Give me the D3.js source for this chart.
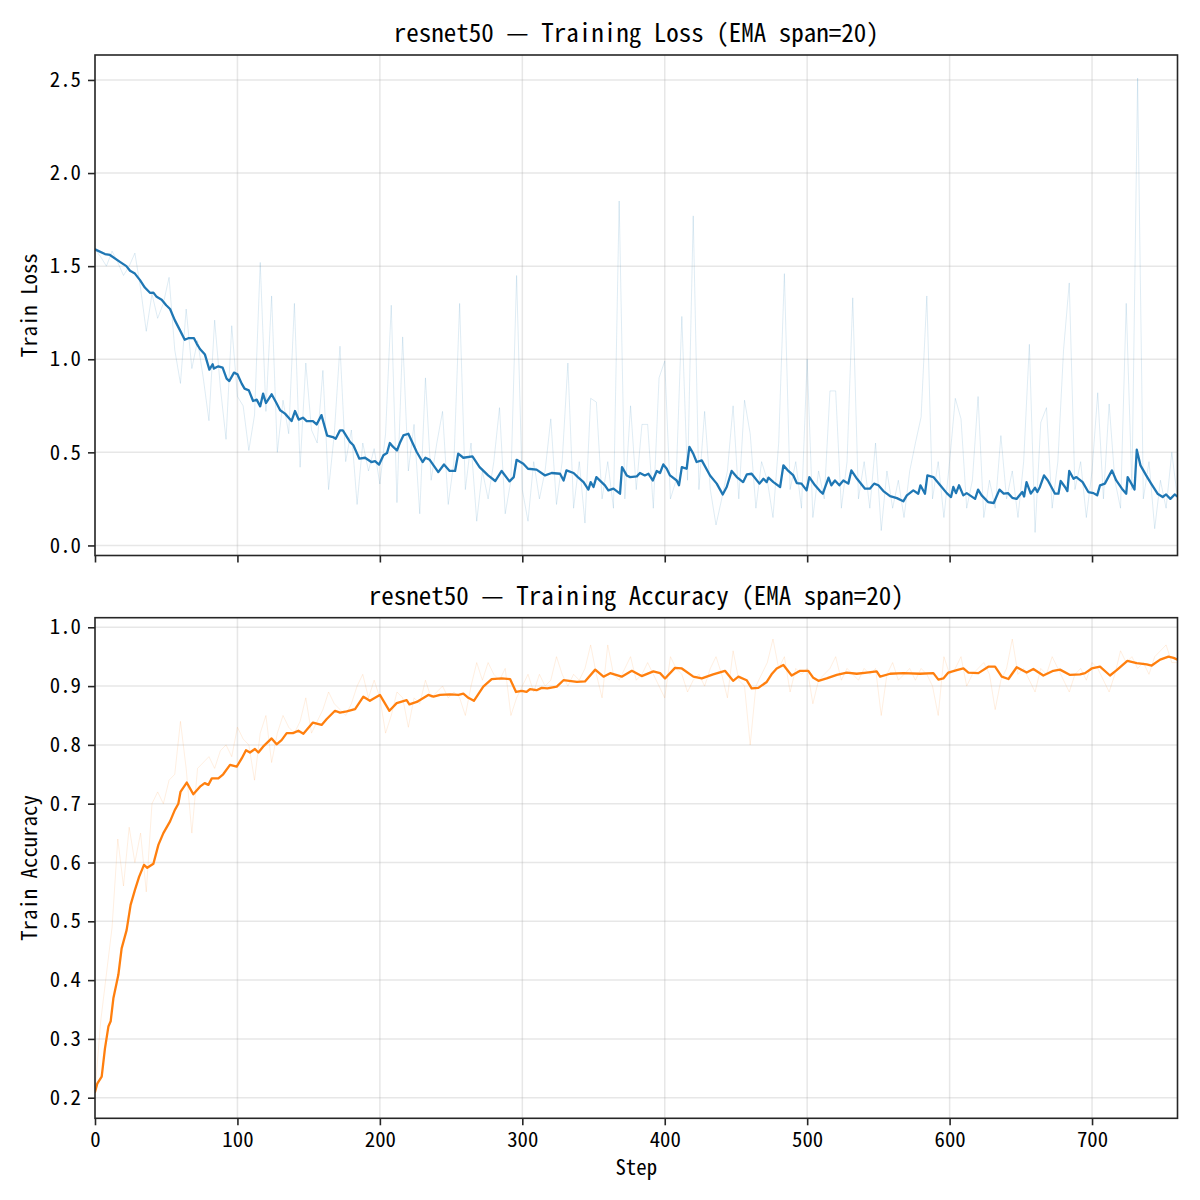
<!DOCTYPE html>
<html>
<head>
<meta charset="utf-8">
<script src="https://cdn.jsdelivr.net/npm/d3@7"></script>
<style>
  html, body { margin: 0; padding: 0; background: #ffffff; }
  svg { display: block; }
  text { font-family: "Noto Sans Mono CJK SC", "Noto Sans CJK SC", "Liberation Mono", monospace; fill: #000; }
</style>
</head>
<body>
<svg id="chart" width="1200" height="1200"></svg>
<script>
// ---------------- data ----------------
const modelName = "resnet50";
const emaSpan = 20;
const xTicks = [0, 100, 200, 300, 400, 500, 600, 700];
const lossTicks = [0.0, 0.5, 1.0, 1.5, 2.0, 2.5];
const accTicks = [0.2, 0.3, 0.4, 0.5, 0.6, 0.7, 0.8, 0.9, 1.0];
const rawStride = 4; // raw values sampled every 4 steps

// raw training loss (steps 0,4,...,760)
const lossRaw = [
  1.59,1.55,1.50,1.58,1.52,1.45,1.50,1.57,1.38,1.15,
  1.35,1.22,1.30,1.44,1.05,0.87,1.27,0.95,1.10,0.90,
  0.67,1.21,0.85,0.57,1.18,0.80,0.75,0.51,0.70,1.52,
  0.72,1.34,0.50,0.78,0.60,1.30,0.42,0.98,0.62,0.55,
  0.94,0.30,0.60,1.07,0.45,0.62,0.22,0.55,0.40,0.52,
  0.33,0.60,1.29,0.23,1.12,0.40,0.65,0.17,0.90,0.35,
  0.55,0.72,0.22,0.45,1.30,0.30,0.55,0.13,0.40,0.25,
  0.45,0.74,0.17,0.35,1.45,0.30,0.13,0.45,0.25,0.40,
  0.68,0.22,0.45,0.98,0.20,0.45,0.12,0.79,0.77,0.25,
  0.45,0.20,1.85,0.25,0.75,0.30,0.65,0.65,0.20,0.90,
  0.99,0.25,0.35,1.23,0.35,1.77,0.30,0.72,0.30,0.11,
  0.25,0.40,0.75,0.25,0.78,0.60,0.20,0.45,0.35,0.15,
  0.55,1.46,0.30,0.45,0.20,1.00,0.15,0.40,0.25,0.83,
  0.83,0.20,0.45,1.33,0.25,0.45,0.20,0.55,0.08,0.40,
  0.20,0.35,0.15,0.40,0.55,0.69,1.34,0.25,0.45,0.15,
  0.45,0.79,0.68,0.20,0.35,0.80,0.15,0.35,0.20,0.59,
  0.25,0.40,0.15,0.45,1.08,0.07,0.66,0.74,0.20,0.45,
  1.05,1.41,0.30,0.45,0.15,0.40,0.82,0.25,0.76,0.35,
  0.20,1.30,0.30,2.51,0.25,0.45,0.09,0.35,0.20,0.50,
  0.25
];

// EMA (span=20) of training loss
const lossEmaStep = [
  0,7,10.5,17.5,22,24.6,28,31.6,35,38.6,41,43.3,46.8,50,52.7,56,59.7,63,65.5,69.5,
  71.4,73.7,77.2,80.3,82.6,83.5,86.6,89.6,92.4,94.3,97.6,100,103,105,108,111,113.5,116,118,120,
  124,127,130,133.4,138,140.4,143,146,148.6,153,155.6,159,163,167,169,172,174,179,181.4,185.6,
  189.6,194,196.6,199.4,202.5,205,207,209,212,214,216.5,220,225.9,230,232,235,241,245,249,252.8,
  255,258.6,265,270,276,281,285.5,291,294,296,300.7,304,310,316,320.6,326.5,329,331,336,339,
  343,346.4,348,350,352,358,360.4,364,368.6,370,373.3,375.7,380.4,382.6,386,388.6,391.6,394.4,396.7,399,
  401.4,403.7,408.4,410,412,415.4,417.3,420,422.4,426,431.8,436.5,440.7,443.5,447,450.6,455,457.7,461,466.5,
  469.3,471.6,472.8,476.3,481,483.3,486.8,490.3,492.7,496,499.6,501.5,505.5,509,511,515,517,519.5,522.6,525.4,
  528.9,531,535,540.6,544,547,550,553.5,558.2,563,567.5,570,574.5,578,579.5,582.7,584.4,588.6,593.4,598,
  601,602.6,604.5,606.6,609.6,612,617.9,620,622.5,627,631,635,638,641,644,647,651,652.3,654,657,
  660,661.6,663.4,666.3,669,674,676.4,678,681,682.7,684,687,689,693.4,697.4,701,703.6,705.6,709,714,
  717,721,724,725,727.6,729.8,731.4,734,738,741.5,746,749.6,752,755,758,760
];
const lossEma = [
  1.59,1.565,1.56,1.523,1.50,1.475,1.46,1.425,1.385,1.357,1.358,1.335,1.32,1.29,1.27,1.21,1.155,1.105,1.113,1.113,
  1.084,1.055,1.025,0.944,0.973,0.95,0.962,0.955,0.896,0.883,0.928,0.919,0.869,0.842,0.833,0.776,0.783,0.747,0.815,0.765,
  0.812,0.77,0.726,0.708,0.668,0.722,0.676,0.686,0.668,0.668,0.65,0.70,0.59,0.582,0.573,0.618,0.618,0.556,0.538,0.466,
  0.471,0.448,0.453,0.434,0.484,0.496,0.55,0.532,0.51,0.55,0.591,0.60,0.502,0.448,0.471,0.46,0.394,0.435,0.40,0.40,
  0.493,0.471,0.478,0.421,0.376,0.346,0.40,0.344,0.367,0.46,0.439,0.412,0.407,0.376,0.389,0.385,0.349,0.403,0.389,0.367,
  0.34,0.30,0.34,0.314,0.367,0.323,0.296,0.305,0.278,0.421,0.376,0.367,0.371,0.389,0.376,0.385,0.349,0.40,0.389,0.435,
  0.412,0.376,0.349,0.323,0.421,0.412,0.529,0.493,0.448,0.457,0.376,0.332,0.274,0.314,0.40,0.367,0.34,0.382,0.385,0.332,
  0.358,0.34,0.364,0.34,0.314,0.43,0.40,0.376,0.335,0.332,0.296,0.367,0.323,0.292,0.278,0.364,0.323,0.349,0.323,0.349,
  0.332,0.403,0.358,0.305,0.305,0.332,0.323,0.292,0.265,0.254,0.237,0.269,0.296,0.278,0.323,0.278,0.376,0.367,0.323,0.281,
  0.26,0.314,0.281,0.323,0.269,0.281,0.25,0.30,0.269,0.233,0.228,0.30,0.278,0.281,0.256,0.25,0.287,0.263,0.34,0.278,
  0.31,0.287,0.314,0.376,0.349,0.278,0.278,0.346,0.314,0.292,0.40,0.358,0.367,0.34,0.287,0.281,0.269,0.323,0.332,0.403,
  0.349,0.305,0.278,0.367,0.332,0.30,0.514,0.43,0.376,0.332,0.278,0.26,0.274,0.25,0.274,0.263
];

// raw training accuracy (steps 0,4,...,760)
const accRaw = [
  0.21,0.33,0.41,0.49,0.64,0.56,0.66,0.60,0.65,0.55,
  0.70,0.72,0.70,0.74,0.75,0.84,0.76,0.65,0.76,0.77,
  0.78,0.76,0.79,0.80,0.78,0.83,0.81,0.80,0.74,0.82,
  0.85,0.77,0.82,0.85,0.83,0.82,0.84,0.88,0.82,0.84,
  0.86,0.89,0.87,0.86,0.85,0.87,0.90,0.92,0.88,0.91,
  0.88,0.82,0.85,0.89,0.88,0.83,0.88,0.87,0.91,0.88,
  0.89,0.90,0.88,0.89,0.88,0.85,0.90,0.94,0.91,0.94,
  0.92,0.91,0.93,0.85,0.88,0.90,0.92,0.89,0.92,0.90,
  0.91,0.95,0.92,0.90,0.92,0.91,0.93,0.97,0.92,0.88,
  0.97,0.92,0.91,0.93,0.95,0.91,0.92,0.94,0.92,0.90,
  0.88,0.95,0.93,0.92,0.89,0.91,0.92,0.90,0.93,0.95,
  0.92,0.88,0.96,0.91,0.90,0.80,0.90,0.92,0.94,0.98,
  0.93,0.95,0.89,0.93,0.92,0.93,0.87,0.91,0.92,0.93,
  0.95,0.91,0.93,0.92,0.91,0.93,0.92,0.93,0.85,0.92,
  0.94,0.91,0.92,0.93,0.91,0.93,0.92,0.90,0.85,0.95,
  0.92,0.93,0.95,0.90,0.92,0.93,0.94,0.92,0.86,0.91,
  0.93,0.98,0.92,0.93,0.91,0.89,0.93,0.92,0.95,0.93,
  0.91,0.89,0.92,0.93,0.91,0.94,0.93,0.91,0.89,0.92,
  0.96,0.94,0.95,0.93,0.94,0.92,0.95,0.96,0.97,0.94,
  0.94
];

// EMA (span=20) of training accuracy
const accEmaStep = [
  0,1.6,4.7,7,9.4,11,12.9,16.4,18.7,22.2,25,28,31,34.4,36.7,41,44.5,48,52.7,56,
  58.5,60,64.4,66.7,69,73.7,77,79.6,82,86.6,90,94.8,99.5,103,106,108.8,112.3,114.7,118,124,
  127.5,131,134.6,139,142.8,146.3,153,159.1,162.7,168.5,172,176.7,182.6,188.4,193,197.8,200,206.7,211.8,218.8,
  220.7,225.9,234,237.6,242.3,249.3,255.2,258.6,262.1,266,272.6,278.5,285.5,291.4,295.6,299.6,303,305.4,310,313.6,
  317.6,324.2,328.9,338.3,344,351.2,357,361.7,369.8,376.9,383.8,392,396.7,400.2,407.2,412,420.1,426,434,442.3,
  448,451.7,457.5,461,465.7,471.6,475,478.6,483.3,489.1,495,500.8,504.3,507.9,513.7,520.8,527.8,534.8,541.8,548.8,
  551.2,558.2,567.5,579.2,588.6,592.1,595.6,599.1,605,609.7,613.2,620.2,627.2,631.9,636.6,641.3,647.1,654.1,658.8,665.8,
  672.8,677.5,684.6,691.6,695.1,699.8,705.6,712.6,717.3,724.8,731.4,738.4,741.9,747.8,753.7,757.2,760
];
const accEma = [
  0.21,0.224,0.236,0.284,0.321,0.33,0.369,0.409,0.454,0.485,0.528,0.553,0.576,0.596,0.591,0.598,0.63,0.65,0.67,0.689,
  0.70,0.72,0.736,0.726,0.716,0.729,0.735,0.732,0.743,0.743,0.75,0.766,0.763,0.777,0.791,0.787,0.793,0.787,0.797,0.811,
  0.801,0.808,0.82,0.82,0.824,0.819,0.838,0.834,0.844,0.858,0.855,0.857,0.861,0.882,0.875,0.882,0.885,0.858,0.871,0.876,
  0.869,0.873,0.885,0.882,0.885,0.886,0.885,0.887,0.88,0.875,0.899,0.912,0.913,0.912,0.89,0.892,0.89,0.895,0.893,0.897,
  0.896,0.899,0.91,0.907,0.908,0.928,0.916,0.922,0.916,0.926,0.917,0.925,0.922,0.913,0.931,0.93,0.916,0.913,0.92,0.926,
  0.909,0.916,0.91,0.896,0.897,0.907,0.92,0.93,0.936,0.918,0.926,0.926,0.914,0.909,0.913,0.919,0.923,0.921,0.923,0.925,
  0.916,0.921,0.922,0.921,0.922,0.911,0.913,0.923,0.927,0.93,0.923,0.922,0.933,0.933,0.916,0.912,0.932,0.923,0.929,0.918,
  0.926,0.928,0.919,0.92,0.922,0.93,0.933,0.918,0.927,0.943,0.939,0.937,0.935,0.945,0.95,0.948,0.945
];

// ---------------- drawing ----------------
const svg = d3.select("#chart");
const fontSmall = 20.8, fontTitle = 25;
const fontStack = '"Noto Sans Mono CJK SC", "Noto Sans CJK SC", "Liberation Mono", monospace';
const spineColor = "#262626";
const blue = "#1f77b4", orange = "#ff7f0e";

const plotL = 95, plotR = 1177.5;
const x = d3.scaleLinear().domain([0, 760]).range([plotL, plotR]);

const panels = [
  {
    top: 55, bottom: 555.5, yDomain: [-0.054, 2.634], ticks: lossTicks,
    raw: lossRaw, emaStep: lossEmaStep, ema: lossEma, color: blue, rawAlpha: 0.16,
    title: `${modelName} — Training Loss (EMA span=${emaSpan})`, ylabel: "Train Loss", showX: false
  },
  {
    top: 617.7, bottom: 1118.3, yDomain: [0.165, 1.0163], ticks: accTicks,
    raw: accRaw, emaStep: accEmaStep, ema: accEma, color: orange, rawAlpha: 0.14,
    title: `${modelName} — Training Accuracy (EMA span=${emaSpan})`, ylabel: "Train Accuracy", showX: true
  }
];

panels.forEach((p, idx) => {
  const y = d3.scaleLinear().domain(p.yDomain).range([p.bottom, p.top]);
  const g = svg.append("g");
  const clipId = "clip" + idx;
  svg.append("clipPath").attr("id", clipId).append("rect")
    .attr("x", plotL).attr("y", p.top).attr("width", plotR - plotL).attr("height", p.bottom - p.top);

  // grid
  g.append("g").selectAll("line").data(xTicks).join("line")
    .attr("x1", d => x(d)).attr("x2", d => x(d)).attr("y1", p.top).attr("y2", p.bottom)
    .attr("stroke", "#b0b0b0").attr("stroke-opacity", 0.3).attr("stroke-width", 1.5);
  g.append("g").selectAll("line").data(p.ticks).join("line")
    .attr("y1", d => y(d)).attr("y2", d => y(d)).attr("x1", plotL).attr("x2", plotR)
    .attr("stroke", "#b0b0b0").attr("stroke-opacity", 0.3).attr("stroke-width", 1.5);

  const lines = g.append("g").attr("clip-path", `url(#${clipId})`);
  const rawLine = d3.line().x((d, i) => x(i * rawStride)).y(d => y(d));
  lines.append("path").datum(p.raw).attr("d", rawLine)
    .attr("fill", "none").attr("stroke", p.color).attr("stroke-opacity", p.rawAlpha)
    .attr("stroke-width", 0.9).attr("stroke-linejoin", "round");

  const emaLine = d3.line().x((d, i) => x(p.emaStep[i])).y(d => y(d));
  lines.append("path").datum(p.ema).attr("d", emaLine)
    .attr("fill", "none").attr("stroke", p.color)
    .attr("stroke-width", 2.3).attr("stroke-linejoin", "round").attr("stroke-linecap", "round");

  // axes
  const yAxis = d3.axisLeft(y).tickValues(p.ticks).tickFormat(d3.format(".1f"))
    .tickSize(7).tickPadding(7);
  const ya = g.append("g").attr("transform", `translate(${plotL},0)`).call(yAxis);
  ya.select(".domain").remove();
  ya.selectAll(".tick line").attr("stroke", spineColor).attr("stroke-width", 1.6);
  ya.selectAll(".tick text").attr("font-size", fontSmall).attr("fill", "#000")
    .style("font-family", fontStack);

  const xAxis = d3.axisBottom(x).tickValues(xTicks).tickFormat(p.showX ? d3.format("d") : () => "")
    .tickSize(7).tickPadding(7);
  const xa = g.append("g").attr("transform", `translate(0,${p.bottom})`).call(xAxis);
  xa.select(".domain").remove();
  xa.selectAll(".tick line").attr("stroke", spineColor).attr("stroke-width", 1.6);
  xa.selectAll(".tick text").attr("font-size", fontSmall).attr("fill", "#000")
    .style("font-family", fontStack);

  // spines
  g.append("rect").attr("x", plotL).attr("y", p.top)
    .attr("width", plotR - plotL).attr("height", p.bottom - p.top)
    .attr("fill", "none").attr("stroke", spineColor).attr("stroke-width", 1.6);

  // title
  g.append("text").attr("x", (plotL + plotR) / 2).attr("y", p.top - 13)
    .attr("text-anchor", "middle").attr("font-size", fontTitle).text(p.title);

  // y label
  g.append("text")
    .attr("transform", `translate(37,${(p.top + p.bottom) / 2}) rotate(-90)`)
    .attr("text-anchor", "middle").attr("font-size", fontSmall).text(p.ylabel);

  if (p.showX) {
    g.append("text").attr("x", (plotL + plotR) / 2).attr("y", p.bottom + 57)
      .attr("text-anchor", "middle").attr("font-size", fontSmall).text("Step");
  }
});
</script>
</body>
</html>
